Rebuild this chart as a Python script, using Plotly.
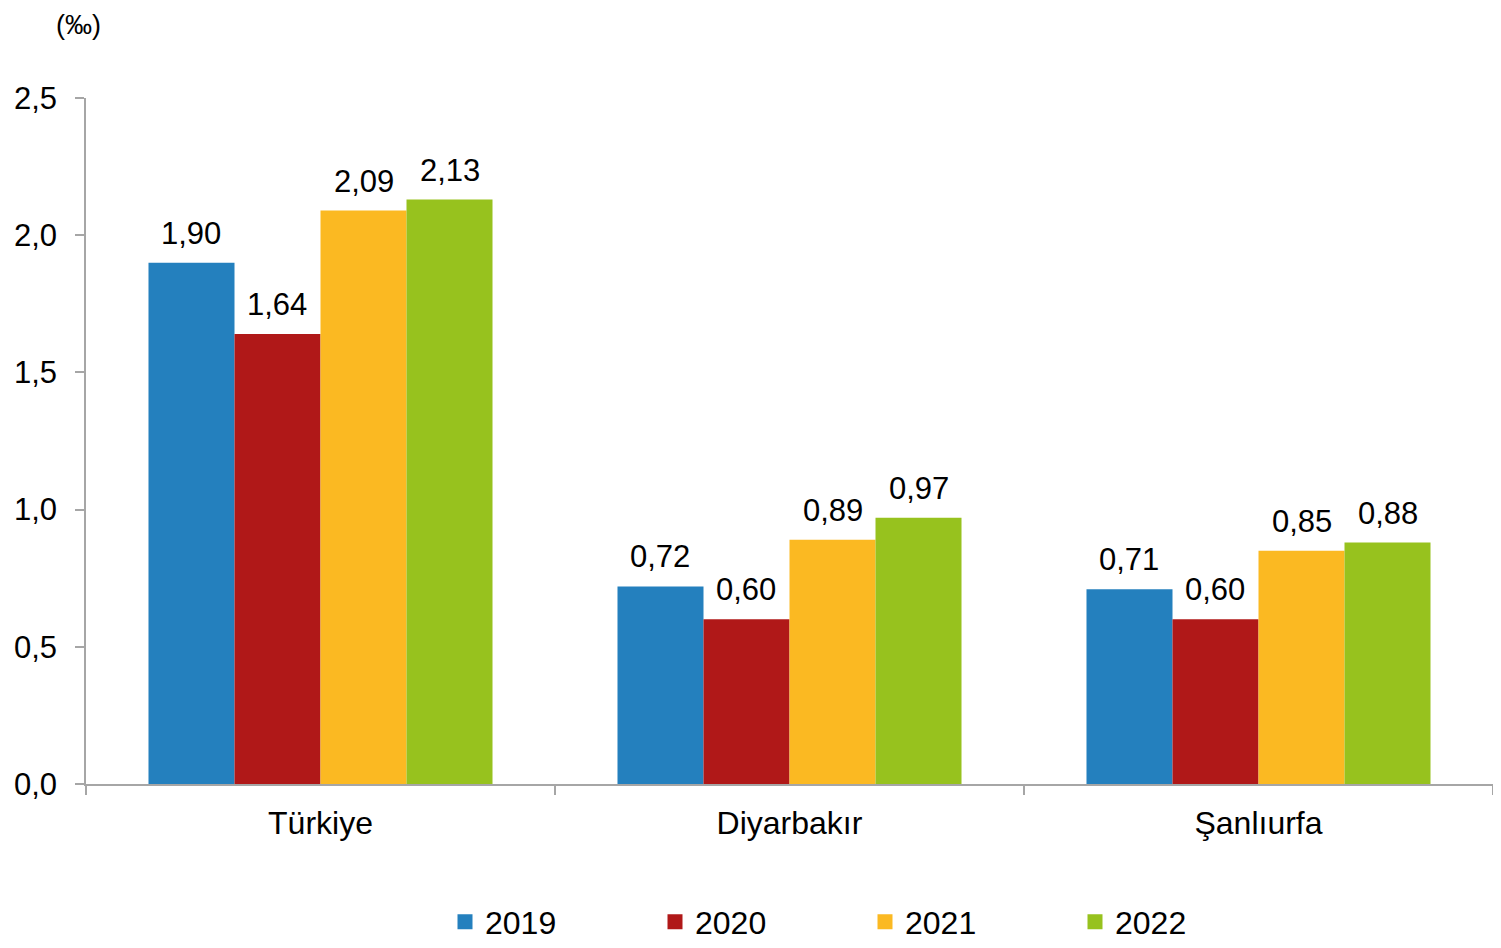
import plotly.graph_objects as go

categories = ["Türkiye", "Diyarbakır", "Şanlıurfa"]
years = ["2019", "2020", "2021", "2022"]
v2019 = [1.90, 0.72, 0.71]
v2020 = [1.64, 0.60, 0.60]
v2021 = [2.09, 0.89, 0.85]
v2022 = [2.13, 0.97, 0.88]
series = [v2019, v2020, v2021, v2022]
colors = ["#2480BE", "#B01818", "#FBB922", "#97C21E"]
y_ticks = [0, 0.5, 1.0, 1.5, 2.0, 2.5]

FONT = "Liberation Sans, Arial, sans-serif"

# page has an 8px body margin; figure sized so the page is exactly 1501x948
W, H = 1485, 932
ML, MR, MT, MB = 78, 0, 90, 156
BARGAP = 0.2665
plot_w = W - ML - MR
plot_h = H - MT - MB
bar_px = plot_w / len(categories) * (1 - BARGAP) / len(years)

fig = go.Figure()
annotations = []
for j, (name, vals, col) in enumerate(zip(years, series, colors)):
    fig.add_trace(go.Bar(
        x=categories, y=vals, name=name, showlegend=False,
        marker=dict(color=col, line=dict(width=0)),
    ))
    for cat, v in zip(categories, vals):
        annotations.append(dict(
            x=cat, y=v, xref="x", yref="y", text=f"{v:.2f}".replace(".", ","),
            showarrow=False, xanchor="center", yanchor="bottom",
            xshift=(j - (len(years) - 1) / 2) * bar_px, yshift=10,
            font=dict(size=31, family=FONT, color="#000000")))

# legend entries with square swatches
for name, col in zip(years, colors):
    fig.add_trace(go.Scatter(
        x=[None], y=[None], name=name, mode="markers",
        marker=dict(symbol="square", size=15, color=col, line=dict(width=0)),
        showlegend=True,
    ))

annotations.append(dict(text="(‰)", xref="paper", yref="paper",
                        x=-8 / plot_w, y=1 + MT / plot_h,
                        xanchor="center", yanchor="top", showarrow=False,
                        font=dict(size=27, family=FONT, color="#000000")))

fig.update_layout(
    width=W, height=H,
    margin=dict(l=ML, r=MR, t=MT, b=MB, autoexpand=False),
    plot_bgcolor="white", paper_bgcolor="white",
    separators=", ",
    barmode="group", bargap=BARGAP, bargroupgap=0,
    font=dict(family=FONT, size=31, color="#000000"),
    showlegend=True,
    legend=dict(orientation="h", x=(457 - 8 - ML - 12) / plot_w, xanchor="left",
                y=-(914 - (MT + plot_h)) / plot_h, yanchor="middle",
                entrywidth=165, entrywidthmode="pixels",
                font=dict(size=32, family=FONT, color="#000000"),
                traceorder="normal", itemsizing="trace"),
    annotations=annotations,
)
fig.update_yaxes(range=[0, 2.5], tickvals=y_ticks, tickformat=".1f",
                 showgrid=False, zeroline=False, showline=True,
                 linecolor="#A6A6A6", linewidth=1.5,
                 ticks="outside", ticklen=9, tickcolor="#A6A6A6", tickwidth=1.5,
                 ticklabelstandoff=12,
                 tickfont=dict(size=31, family=FONT, color="#000000"))
fig.update_xaxes(showgrid=False, showline=True, linecolor="#A6A6A6", linewidth=1.5,
                 ticks="outside", ticklen=9, tickcolor="#A6A6A6", tickwidth=1.5,
                 tickson="boundaries", ticklabelstandoff=10,
                 tickfont=dict(size=32, family=FONT, color="#000000"))

fig.write_html("out.html")
